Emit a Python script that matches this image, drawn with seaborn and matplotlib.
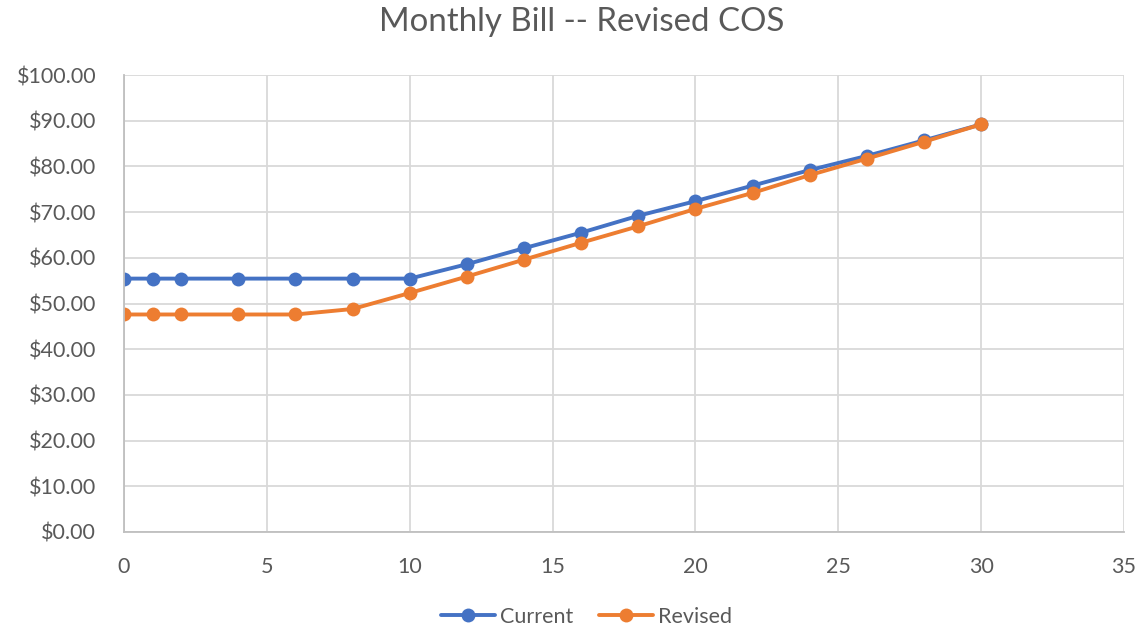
import matplotlib
matplotlib.use('Agg')
import matplotlib.pyplot as plt
import pandas as pd
import seaborn as sns
from matplotlib.ticker import FuncFormatter

usage = [0, 1, 2, 4, 6, 8, 10, 12, 14, 16, 18, 20, 22, 24, 26, 28, 30]
current = [55.45, 55.45, 55.45, 55.45, 55.45, 55.45, 55.45, 58.6, 62.1, 65.5,
           69.2, 72.4, 75.8, 79.2, 82.3, 85.7, 89.2]
revised = [47.6, 47.6, 47.6, 47.6, 47.6, 48.8, 52.3, 55.9, 59.6, 63.3,
           66.9, 70.7, 74.2, 78.1, 81.7, 85.4, 89.2]
series_names = ['Current', 'Revised']
colors = ['#4472C4', '#ED7D31']

df = pd.DataFrame({
    'usage': usage * 2,
    'bill': current + revised,
    'series': [series_names[0]] * len(usage) + [series_names[1]] * len(usage),
})

sns.set_theme(style='white')
plt.rcParams['font.family'] = ['Lato', 'DejaVu Sans']

fig = plt.figure(figsize=(11.38, 6.31), dpi=100)
ax = fig.add_axes([0.1090, 0.1569, 0.8787, 0.7242])

sns.lineplot(data=df, x='usage', y='bill', hue='series', palette=colors,
             marker='o', markersize=10, markeredgewidth=0, linewidth=2.8,
             ax=ax)

ax.set_xlim(0, 35)
ax.set_ylim(0, 100)
ax.set_xticks(range(0, 36, 5))
ax.set_yticks(range(0, 101, 10))
ax.yaxis.set_major_formatter(FuncFormatter(lambda v, p: f'${v:.2f}'))
ax.grid(True, color='#d9d9d9', linewidth=1.3)
ax.set_axisbelow(True)
for s in ['top', 'right']:
    ax.spines[s].set_visible(False)
for s in ['left', 'bottom']:
    ax.spines[s].set_color('#bfbfbf')
    ax.spines[s].set_linewidth(1.3)
ax.tick_params(axis='both', colors='#595959', labelsize=15.5, length=0)
ax.tick_params(axis='x', pad=18)
ax.tick_params(axis='y', pad=20)
ax.set_xlabel('')
ax.set_ylabel('')

fig.text(0.511, 0.965, 'Monthly Bill -- Revised COS', ha='center', va='center',
         fontsize=23.8, color='#595959')

handles, labels = ax.get_legend_handles_labels()
ax.get_legend().remove()
fig.legend(handles, labels, loc='center', bbox_to_anchor=(0.5154, 0.0222),
           ncol=2, frameon=False, fontsize=15.5, labelcolor='#595959',
           handlelength=2.5, handletextpad=0.25, columnspacing=1.2)

fig.savefig('out.png', dpi=100)
